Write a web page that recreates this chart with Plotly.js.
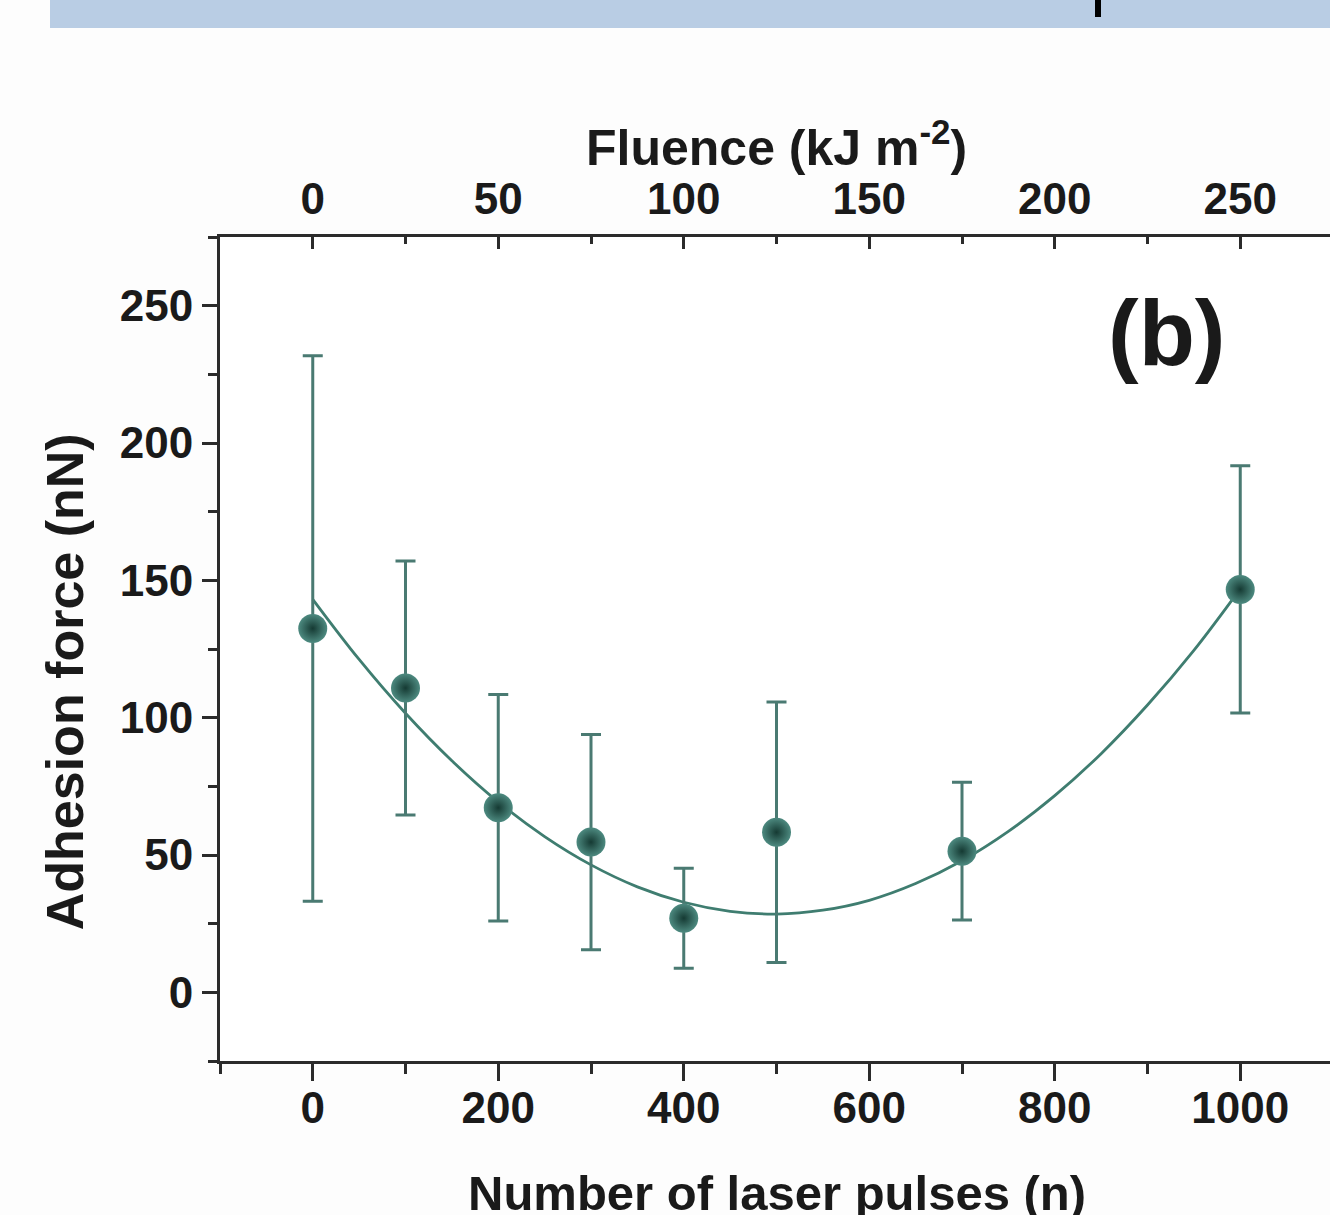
<!DOCTYPE html>
<html>
<head>
<meta charset="utf-8">
<script src="https://cdn.plot.ly/plotly-3.0.1.min.js"></script>
<style>
  html, body { margin: 0; padding: 0; width: 1330px; height: 1215px; overflow: hidden; background: #fdfdfd; }
  #chart { position: absolute; left: 0; top: 0; width: 1340px; height: 1215px; }
  #band { position: absolute; left: 50px; top: 0; width: 1280px; height: 28px; background: #b9cde4; z-index: 5; }
  #mark { position: absolute; left: 1095px; top: 0; width: 6px; height: 17px; background: #000; z-index: 6; }
</style>
</head>
<body>
<div id="chart"></div>
<div id="band"></div>
<div id="mark"></div>
<script>
// Measured data: number of laser pulses vs adhesion force (nN)
const pulses = [0, 100, 200, 300, 400, 500, 700, 1000];
const adhesion = [132.5, 110.8, 67.2, 54.7, 27.0, 58.3, 51.4, 146.7];
const adhesionErr = [99.3, 46.2, 41.2, 39.2, 18.2, 47.4, 25.1, 45.0];

// Fitted curve
const fitPulses = [0, 50, 100, 150, 200, 250, 300, 350, 400, 450, 500, 550, 600, 650, 700, 750, 800, 850, 900, 950, 1000];
const fitForce = [143.1, 121.2, 101.6, 84.3, 69.3, 56.7, 46.4, 38.4, 32.8, 29.5, 28.5, 29.9, 33.5, 39.6, 47.9, 58.6, 71.6, 86.9, 104.6, 124.5, 146.9];

// Axis ticks
const pulseTicks = [0, 200, 400, 600, 800, 1000];
const fluenceTicks = [0, 50, 100, 150, 200, 250];
const forceTicks = [0, 50, 100, 150, 200, 250];

const fam = 'Liberation Sans, Arial, sans-serif';
const tickFont = { family: fam, size: 44, color: '#1a1a1a', weight: 700 };
const titleFont = { family: fam, size: 50, color: '#1a1a1a', weight: 700 };
const axisColor = '#2b2b2b';

const traces = [
  {
    x: fitPulses, y: fitForce, type: 'scatter', mode: 'lines',
    line: { color: '#3f7d70', width: 2.8, shape: 'spline' },
    hoverinfo: 'skip', showlegend: false
  },
  {
    x: pulses, y: adhesion, type: 'scatter', mode: 'markers',
    error_y: { type: 'data', array: adhesionErr, visible: true, color: '#4a7a72', thickness: 3, width: 10 },
    marker: { size: 29, color: '#4d8a80', gradient: { type: 'radial', color: '#153a33' }, line: { width: 0 } },
    showlegend: false
  },
  {
    x: fluenceTicks, y: fluenceTicks.map(() => null), xaxis: 'x2', type: 'scatter', mode: 'markers',
    hoverinfo: 'skip', showlegend: false
  },
  {
    x: pulseTicks, y: pulseTicks.map(() => null), xaxis: 'x3', type: 'scatter', mode: 'markers',
    hoverinfo: 'skip', showlegend: false
  }
];

const layout = {
  width: 1340, height: 1215,
  margin: { l: 220, r: 7, t: 237, b: 154 },
  paper_bgcolor: 'rgba(0,0,0,0)', plot_bgcolor: '#ffffff',
  showlegend: false,
  xaxis: {
    range: [-100, 1100], tickvals: pulseTicks, showticklabels: false,
    showgrid: false, zeroline: false, showline: true, linecolor: axisColor, linewidth: 3,
    ticks: 'outside', ticklen: 17, tickwidth: 3, tickcolor: axisColor,
    minor: { dtick: 100, tick0: 0, ticks: 'outside', ticklen: 10, tickwidth: 3, tickcolor: axisColor }
  },
  xaxis3: {
    overlaying: 'x', side: 'bottom', anchor: 'y',
    range: [-100, 1100], tickvals: pulseTicks, ticktext: pulseTicks.map(String),
    showgrid: false, zeroline: false, showline: false, ticks: '',
    tickfont: tickFont, ticklabelstandoff: 17
  },
  xaxis2: {
    overlaying: 'x', side: 'top', anchor: 'y',
    range: [-25, 275], tickvals: fluenceTicks, ticktext: fluenceTicks.map(String),
    showgrid: false, zeroline: false, showline: true, linecolor: axisColor, linewidth: 3,
    ticks: 'inside', ticklen: 12, tickwidth: 3, tickcolor: axisColor,
    minor: { dtick: 25, tick0: 0, ticks: 'inside', ticklen: 7, tickwidth: 3, tickcolor: axisColor },
    tickfont: tickFont, ticklabelstandoff: 2
  },
  yaxis: {
    range: [-25, 275], tickvals: forceTicks, ticktext: forceTicks.map(String),
    showgrid: false, zeroline: false, showline: true, linecolor: axisColor, linewidth: 3,
    ticks: 'outside', ticklen: 15, tickwidth: 3, tickcolor: axisColor,
    minor: { dtick: 25, tick0: 0, ticks: 'outside', ticklen: 9, tickwidth: 3, tickcolor: axisColor },
    tickfont: tickFont, ticklabelstandoff: 0
  },
  annotations: [
    { text: 'Fluence (kJ m<sup>-2</sup>)', xref: 'paper', yref: 'paper', x: 0.5, y: 1.113,
      xanchor: 'center', yanchor: 'middle', showarrow: false, font: titleFont },
    { text: 'Number of laser pulses (n)', xref: 'paper', yref: 'paper', x: 0.5, y: -0.16,
      xanchor: 'center', yanchor: 'middle', showarrow: false, font: { family: fam, size: 49, color: '#1a1a1a', weight: 700 } },
    { text: 'Adhesion force (nN)', xref: 'paper', yref: 'y', x: -0.139, y: 113, textangle: -90,
      xanchor: 'center', yanchor: 'middle', showarrow: false, font: { family: fam, size: 52, color: '#1a1a1a', weight: 700 } },
    { text: '(b)', xref: 'x', yref: 'y', x: 920, y: 240, xanchor: 'center', yanchor: 'middle',
      showarrow: false, font: { family: fam, size: 92, color: '#1a1a1a', weight: 700 } }
  ]
};

Plotly.newPlot('chart', traces, layout, { displayModeBar: false, staticPlot: true });
</script>
</body>
</html>
